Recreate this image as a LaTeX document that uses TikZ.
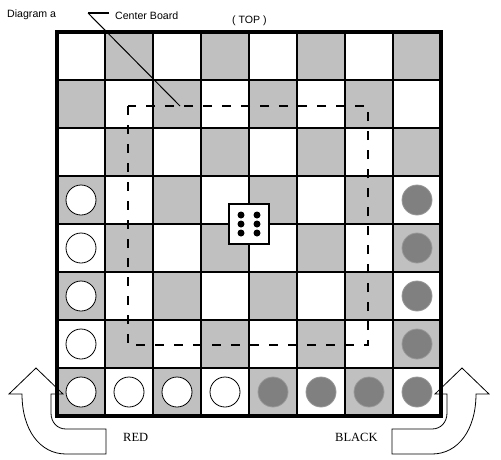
\documentclass[tikz,border=0pt]{standalone}
\usepackage{fontspec}
\setmainfont{Liberation Serif}
\newfontfamily\sansfont{Liberation Sans}
\definecolor{boardgrey}{RGB}{192,192,192}
\definecolor{piecegrey}{RGB}{128,128,128}
\tikzstyle{square}=[fill=boardgrey]
\tikzstyle{piece}=[circle,minimum size=30pt,inner sep=0pt]
\tikzstyle{red piece}=[piece,draw=black,line width=0.8pt,fill=white]
\tikzstyle{black piece}=[piece,draw=black!40,line width=0.8pt,fill=piecegrey]
\tikzstyle{grid line}=[draw,line width=1.6pt]
\tikzstyle{rim}=[draw,line width=3.5pt]
\tikzstyle{zone}=[draw,line width=1.8pt,dash pattern=on 9pt off 10pt]
\tikzstyle{pip}=[circle,fill=black,minimum size=7pt,inner sep=0pt]
\tikzstyle{turn arrow}=[draw,line width=0.8pt]
\tikzstyle{caption}=[font=\sansfont\fontsize{10.6}{12}\selectfont,inner sep=0pt]
\tikzstyle{side}=[font=\fontsize{12.5}{14}\selectfont,inner sep=0pt]

\begin{document}
\begin{tikzpicture}[x=1pt,y=-1pt]
    \fill[white] (0,0) rectangle (501,459);
    \useasboundingbox (0,0) rectangle (501,459);

    % board squares
    \foreach \r in {0,...,7}
        \foreach \c in {0,...,7} {
            \pgfmathtruncatemacro\odd{mod(\r+\c,2)}
            \ifnum\odd=1
                \path[square] (57+48*\c,32+48*\r) rectangle ++(48,48);
            \fi
        }
    \foreach \i in {1,...,7} {
        \path[grid line] (57+48*\i,32) -- (57+48*\i,416);
        \path[grid line] (57,32+48*\i) -- (441,32+48*\i);
    }
    \path[rim] (57,32) rectangle (441,416);

    % pieces
    \foreach \pos/\name in {{(81,200)/r1}, {(81,248)/r2}, {(81,296)/r3}, {(81,344)/r4},
                            {(81,392)/r5}, {(129,392)/r6}, {(177,392)/r7}, {(225,392)/r8}}
        \node[red piece] (\name) at \pos {};
    \foreach \pos/\name in {{(417,200)/b1}, {(417,248)/b2}, {(417,296)/b3}, {(417,344)/b4},
                            {(417,392)/b5}, {(369,392)/b6}, {(321,392)/b7}, {(273,392)/b8}}
        \node[black piece] (\name) at \pos {};

    \path[zone] (128,106) rectangle (368,345);

    % die
    \node[draw,fill=white,line width=1.5pt,minimum size=40pt,inner sep=0pt] (die) at (249,224) {};
    \foreach \dx/\i in {-8/1,8/2}
        \foreach \dy/\j in {-9/1,0/2,9/3}
            \node[pip] (pip\i\j) at ([shift={(\dx,\dy)}]die.center) {};

    % labels
    \node[caption,anchor=base west] (title) at (7,17) {Diagram a};
    \node[caption,anchor=base west] (cb) at (115,19) {Center Board};
    \node[caption,anchor=base west] (top) at (232,23) {( TOP )};
    \node[side,anchor=base west] (red) at (123,441) {RED};
    \node[side,anchor=base west] (black) at (335,441) {BLACK};

    \coordinate (bend) at (88,13);
    \coordinate (tail) at (109,13);
    \coordinate (edge) at (180,106);
    \draw[line width=1.8pt] (tail) -- (bend);
    \draw[line width=1pt] (bend) -- (edge);

    % turn arrows
    \foreach \sx/\dx in {1/0,-1/498} {
        \begin{scope}[xshift=\dx,xscale=\sx]
            \path[turn arrow] (36,368) -- (63,394) -- (51,394) -- (51,413)
                .. controls (51,422) and (57,429) .. (66,429) -- (106,429) -- (106,454) -- (66,454)
                .. controls (40,454) and (22,430) .. (22,394) -- (9,394) -- cycle;
        \end{scope}
    }
\end{tikzpicture}
\end{document}
